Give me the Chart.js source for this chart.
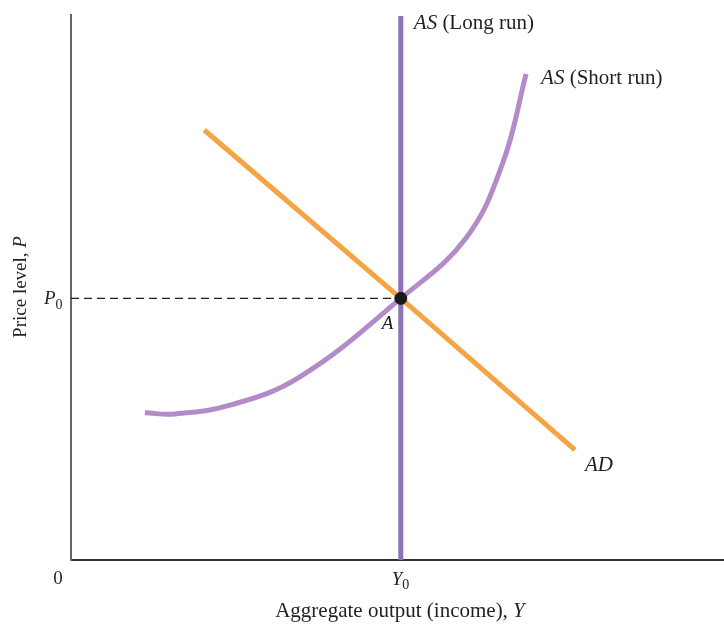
<!DOCTYPE html>
<html>
<head>
<meta charset="utf-8">
<script src="https://cdn.jsdelivr.net/npm/chart.js@4.4.1/dist/chart.umd.min.js"></script>
<style>
  html, body { margin: 0; padding: 0; background: #fff; }
  #wrap { width: 724px; height: 624px; }
</style>
</head>
<body>
<div id="wrap"><canvas id="chart" width="724" height="624"></canvas></div>
<script>
// Equilibrium (point A)
const eqOutput = 50;   // Y0
const eqPrice = 48;    // P0

// Short-run AS curve
const srOutput = [11.2, 15.8, 24.1, 34.7, 50.0, 59.9, 65.5, 69.0];
const srPrice  = [27.0, 26.8, 28.4, 33.6, 48.0, 59.1, 73.0, 89.2];

// Aggregate demand (straight line)
const adOutput = [20.2, 50, 76.4];
const adPrice  = [78.9, 48, 20.2];

// Long-run AS (vertical at Y0)
const lrPrice = [0, 99.8];

const serif = '"Liberation Serif", "DejaVu Serif", serif';

// draw text made of runs: [text, italic, subscript]
function drawRuns(ctx, runs, x, y, align, size) {
    const fontFor = r => (r[1] ? 'italic ' : '') + Math.round(r[2] ? size * 0.75 : size) + 'px ' + serif;
    let total = 0;
    runs.forEach(r => {
        ctx.font = fontFor(r);
        total += ctx.measureText(r[0]).width;
    });
    let cx = align === 'center' ? x - total / 2 : (align === 'right' ? x - total : x);
    runs.forEach(r => {
        ctx.font = fontFor(r);
        ctx.fillText(r[0], cx, y + (r[2] ? size * 0.22 : 0));
        cx += ctx.measureText(r[0]).width;
    });
}

const labelPlugin = {
    id: 'labels',
    afterDraw(chart) {
        const ctx = chart.ctx;
        const xs = chart.scales.x, ys = chart.scales.y;
        const px = v => xs.getPixelForValue(v);
        const py = v => ys.getPixelForValue(v);
        ctx.save();
        ctx.fillStyle = '#231f20';
        ctx.textBaseline = 'alphabetic';
        ctx.textAlign = 'left';

        // curve labels
        drawRuns(ctx, [['AS', true], [' (Long run)', false]], px(eqOutput) + 13, 29, 'left', 21);
        const srEnd = srOutput.length - 1;
        drawRuns(ctx, [['AS', true], [' (Short run)', false]], px(srOutput[srEnd]) + 15, py(srPrice[srEnd]) + 10, 'left', 21);
        drawRuns(ctx, [['AD', true]], px(adOutput[2]) + 10, py(adPrice[2]) + 21, 'left', 21);
        drawRuns(ctx, [['A', true]], px(eqOutput) - 19, py(eqPrice) + 31, 'left', 19);

        // axis marks
        drawRuns(ctx, [['P', true], ['0', false, true]], xs.left - 27, py(eqPrice) + 6, 'left', 19);
        drawRuns(ctx, [['Y', true], ['0', false, true]], px(eqOutput) - 9, ys.bottom + 25, 'left', 19);
        drawRuns(ctx, [['0', false]], xs.left - 13, ys.bottom + 24, 'center', 19);

        // axis titles
        drawRuns(ctx, [['Aggregate output (income), ', false], ['Y', true]], 400, 617, 'center', 21);
        ctx.translate(26, 287);
        ctx.rotate(-Math.PI / 2);
        drawRuns(ctx, [['Price level, ', false], ['P', true]], 0, 0, 'center', 18.5);
        ctx.restore();
    }
};

const data = {
    datasets: [
        {
            label: 'P0 guide',
            data: [{ x: 0, y: eqPrice }, { x: eqOutput, y: eqPrice }],
            borderColor: '#231f20',
            borderWidth: 1.3,
            borderDash: [8, 5],
            pointRadius: 0,
            showLine: true,
            order: 4
        },
        {
            label: 'AS (Short run)',
            data: srOutput.map((v, i) => ({ x: v, y: srPrice[i] })),
            borderColor: '#b38bc9',
            borderWidth: 5,
            pointRadius: 0,
            showLine: true,
            tension: 0.4,
            order: 3
        },
        {
            label: 'AD',
            data: adOutput.map((v, i) => ({ x: v, y: adPrice[i] })),
            borderColor: '#f6a443',
            borderWidth: 5,
            borderCapStyle: 'butt',
            pointRadius: 0,
            showLine: true,
            order: 2
        },
        {
            label: 'AS (Long run)',
            data: lrPrice.map(v => ({ x: eqOutput, y: v })),
            borderColor: '#8c73b9',
            borderWidth: 5,
            borderCapStyle: 'butt',
            pointRadius: 0,
            showLine: true,
            order: 1
        },
        {
            label: 'A',
            data: [{ x: eqOutput, y: eqPrice }],
            backgroundColor: '#1a1a1a',
            borderColor: '#1a1a1a',
            pointRadius: 6,
            showLine: false,
            order: 0
        }
    ]
};

new Chart(document.getElementById('chart'), {
    type: 'scatter',
    data: data,
    options: {
        responsive: false,
        animation: false,
        layout: { autoPadding: false, padding: { left: 71, top: 15, right: 0, bottom: 64 } },
        plugins: {
            legend: { display: false },
            tooltip: { enabled: false }
        },
        scales: {
            x: {
                type: 'linear',
                min: 0,
                max: 99,
                grid: { display: false, drawTicks: false },
                ticks: { display: false },
                border: { display: true, color: '#333', width: 2 }
            },
            y: {
                type: 'linear',
                min: 0,
                max: 100,
                grid: { display: false, drawTicks: false },
                ticks: { display: false },
                border: { display: true, color: '#666', width: 2 }
            }
        }
    },
    plugins: [labelPlugin]
});
</script>
</body>
</html>
